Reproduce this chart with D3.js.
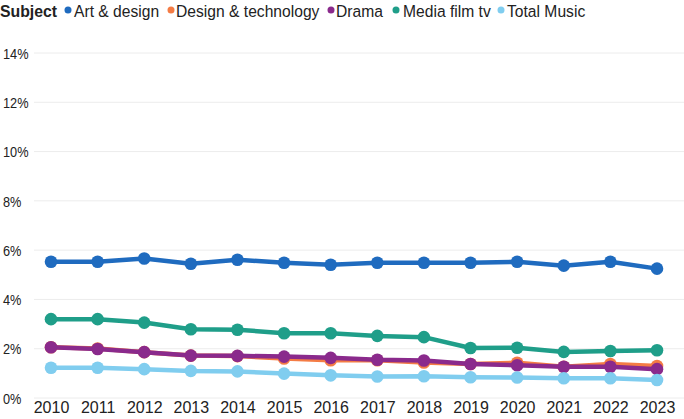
<!DOCTYPE html>
<html><head><meta charset="utf-8">
<script src="https://cdn.jsdelivr.net/npm/d3@7"></script>
<style>body{margin:0;background:#fff;}svg{display:block;font-family:"Liberation Sans",Arial,sans-serif;}</style>
</head><body><svg id="c" width="684" height="419"></svg>
<script>
const years = [2010,2011,2012,2013,2014,2015,2016,2017,2018,2019,2020,2021,2022,2023];
const seriesNames = ["Art & design","Design & technology","Drama","Media film tv","Total Music"];
const artDesign = [5.53,5.53,5.66,5.45,5.61,5.49,5.41,5.49,5.49,5.49,5.53,5.37,5.53,5.25];
const designTech = [2.06,2.01,1.86,1.72,1.70,1.60,1.53,1.53,1.44,1.38,1.43,1.27,1.38,1.30];
const drama = [2.06,1.99,1.86,1.72,1.71,1.68,1.63,1.55,1.52,1.38,1.33,1.27,1.27,1.17];
const mediaFilmTv = [3.20,3.20,3.06,2.79,2.77,2.63,2.63,2.52,2.47,2.03,2.04,1.87,1.91,1.94];
const totalMusic = [1.23,1.23,1.17,1.10,1.08,0.99,0.92,0.87,0.88,0.84,0.83,0.80,0.80,0.73];
const yTicks = [0,2,4,6,8,10,12,14];
const colors = ["#1f6bbf","#f47c45","#8a2a8c","#1f9e89","#80cdef"];
const seriesValues = [artDesign, designTech, drama, mediaFilmTv, totalMusic];

const svg = d3.select("#c");
const x = d3.scaleLinear().domain([2010,2023]).range([51,657]);
const y = d3.scaleLinear().domain([0,14]).range([398,53]);

// gridlines
svg.append("g").selectAll("line").data(yTicks).join("line")
  .attr("x1",34).attr("x2",684).attr("y1",d=>y(d)).attr("y2",d=>y(d))
  .attr("stroke","#ececec").attr("stroke-width",1);

// y axis labels
const yAxis = d3.axisLeft(y).tickValues(yTicks).tickFormat(d=>d+"%").tickSize(0).tickPadding(0);
const gy = svg.append("g").call(yAxis);
gy.select(".domain").remove();
gy.selectAll("text").attr("text-anchor","start").attr("font-size",14.5).attr("fill","#222")
  .attr("font-family","'Liberation Sans',Arial,sans-serif")
  .attr("x",0).attr("dy","0.36em")
  .attr("transform","translate(3,0) scale(0.88,1)");

// x axis labels
const xAxis = d3.axisBottom(x).tickValues(years).tickFormat(d3.format("d")).tickSize(0).tickPadding(0);
const gx = svg.append("g").attr("transform","translate(0,402)").call(xAxis);
gx.select(".domain").remove();
gx.selectAll("text").attr("font-size",16).attr("fill","#222")
  .attr("font-family","'Liberation Sans',Arial,sans-serif");

// lines (purple drawn over orange)
const order = [0,3,1,2,4];
const line = d3.line().x((d,i)=>x(years[i])).y(d=>y(d));
order.forEach(k=>{
  const g = svg.append("g");
  g.append("path").datum(seriesValues[k]).attr("d",line)
    .attr("fill","none").attr("stroke",colors[k]).attr("stroke-width",4.5).attr("stroke-linejoin","round");
  g.selectAll("circle").data(seriesValues[k]).join("circle")
    .attr("cx",(d,i)=>x(years[i])).attr("cy",d=>y(d)).attr("r",6.3).attr("fill",colors[k]);
});

// legend
const leg = svg.append("g").attr("font-size",17).attr("fill","#222");
leg.append("text").attr("transform","translate(0,17) scale(0.93,1)").attr("font-weight","bold").text("Subject");
const legDotX = [68,171,331,396,501];
const legTextX = [74,176,336,403,507];
seriesNames.forEach((n,i)=>{
  leg.append("circle").attr("cx",legDotX[i]).attr("cy",10).attr("r",3.5).attr("fill",colors[i]);
  leg.append("text").attr("transform",`translate(${legTextX[i]},17) scale(0.92,1)`).text(n);
});
</script></body></html>
